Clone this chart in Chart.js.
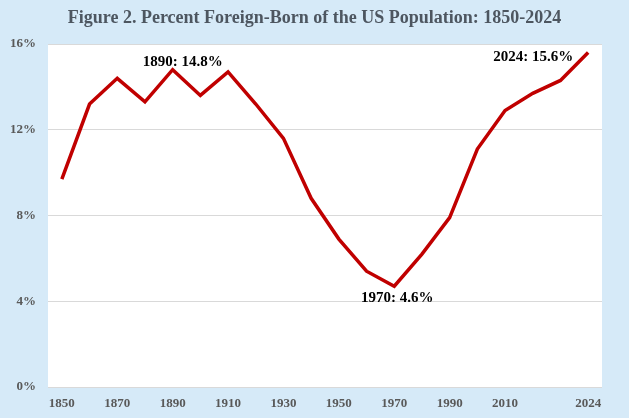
<!DOCTYPE html>
<html>
<head>
<meta charset="utf-8">
<script src="https://cdn.jsdelivr.net/npm/chart.js@4/dist/chart.umd.min.js"></script>
<style>
  html, body { margin: 0; padding: 0; background: #d6eaf8; }
  #wrap { width: 629px; height: 418px; }
</style>
</head>
<body>
<div id="wrap"><canvas id="foreignBornChart" width="629" height="418"></canvas></div>
<script>
// years on the axis (2015 and 2020 are plotted but not labelled)
const years = ['1850', '1860', '1870', '1880', '1890', '1900', '1910', '1920', '1930', '1940',
               '1950', '1960', '1970', '1980', '1990', '2000', '2010', '2015', '2020', '2024'];
// percent foreign-born
const percentForeignBorn = [9.7, 13.2, 14.4, 13.3, 14.8, 13.6, 14.7, 13.2, 11.6, 8.8,
                            6.9, 5.4, 4.7, 6.2, 7.9, 11.1, 12.9, 13.7, 14.3, 15.6];
const yTicks = [0, 4, 8, 12, 16];
// call-outs on the line
const calloutYears = ['1890', '1970', '2024'];
const calloutTexts = ['1890: 14.8%', '1970: 4.6%', '2024: 15.6%'];
const chartTitle = 'Figure 2. Percent Foreign-Born of the US Population: 1850-2024';

const textGray = '#595959';
const serif = "'Liberation Serif', 'Times New Roman', serif";

// white plot area on the blue background, title centred on the whole canvas
const plotBackground = {
    id: 'plotBackground',
    beforeDraw(chart) {
        const { ctx, chartArea } = chart;
        ctx.save();
        ctx.fillStyle = '#ffffff';
        ctx.fillRect(chartArea.left, chartArea.top, chartArea.right - chartArea.left, chartArea.bottom - chartArea.top);
        ctx.font = 'bold 18px ' + serif;
        ctx.fillStyle = '#4d5660';
        ctx.textAlign = 'center';
        ctx.textBaseline = 'middle';
        ctx.fillText(chartTitle, chart.width / 2, 18);
        ctx.restore();
    }
};

// labels next to the highlighted points
const callouts = {
    id: 'callouts',
    afterDatasetsDraw(chart) {
        const { ctx } = chart;
        const xs = chart.scales.x, ys = chart.scales.y;
        const shift = { '1890': [10, -8, 'center'], '1970': [3, 12, 'center'], '2024': [-15, 5, 'right'] };
        ctx.save();
        ctx.font = 'bold 15px ' + serif;
        ctx.fillStyle = '#000000';
        ctx.textBaseline = 'middle';
        calloutYears.forEach(function(yr, i) {
            const idx = years.indexOf(yr);
            const px = xs.getPixelForValue(idx);
            const py = ys.getPixelForValue(percentForeignBorn[idx]);
            const s = shift[yr];
            ctx.textAlign = s[2];
            ctx.fillText(calloutTexts[i], px + s[0], py + s[1]);
        });
        ctx.restore();
    }
};

new Chart(document.getElementById('foreignBornChart'), {
    type: 'line',
    data: {
        labels: years,
        datasets: [{
            data: percentForeignBorn,
            borderColor: '#c00000',
            borderWidth: 3.5,
            pointRadius: 0,
            tension: 0,
            fill: false
        }]
    },
    options: {
        responsive: false,
        animation: false,
        layout: { padding: { left: 0, right: 27, top: 44, bottom: 0 } },
        plugins: {
            legend: { display: false },
            tooltip: { enabled: false },
            title: { display: false }
        },
        scales: {
            x: {
                offset: true,
                grid: { display: false, drawTicks: false },
                border: { display: false },
                afterFit(scale) { scale.height = 31; },
                ticks: {
                    autoSkip: false,
                    maxRotation: 0,
                    padding: 9,
                    color: textGray,
                    font: { family: serif, size: 13, weight: 'bold' },
                    callback(value, index) {
                        if (index === years.length - 1) return years[index];
                        if (index <= 16 && index % 2 === 0) return years[index];
                        return '';
                    }
                }
            },
            y: {
                min: 0,
                max: 16,
                afterFit(scale) { scale.width = 48; },
                afterBuildTicks(scale) { scale.ticks = yTicks.map(v => ({ value: v })); },
                grid: { color: '#d9d9d9', lineWidth: 1, drawTicks: false },
                border: { display: false },
                ticks: {
                    padding: 12,
                    color: textGray,
                    font: { family: serif, size: 13, weight: 'bold' },
                    callback: v => v + '%'
                }
            }
        }
    },
    plugins: [plotBackground, callouts]
});
</script>
</body>
</html>
